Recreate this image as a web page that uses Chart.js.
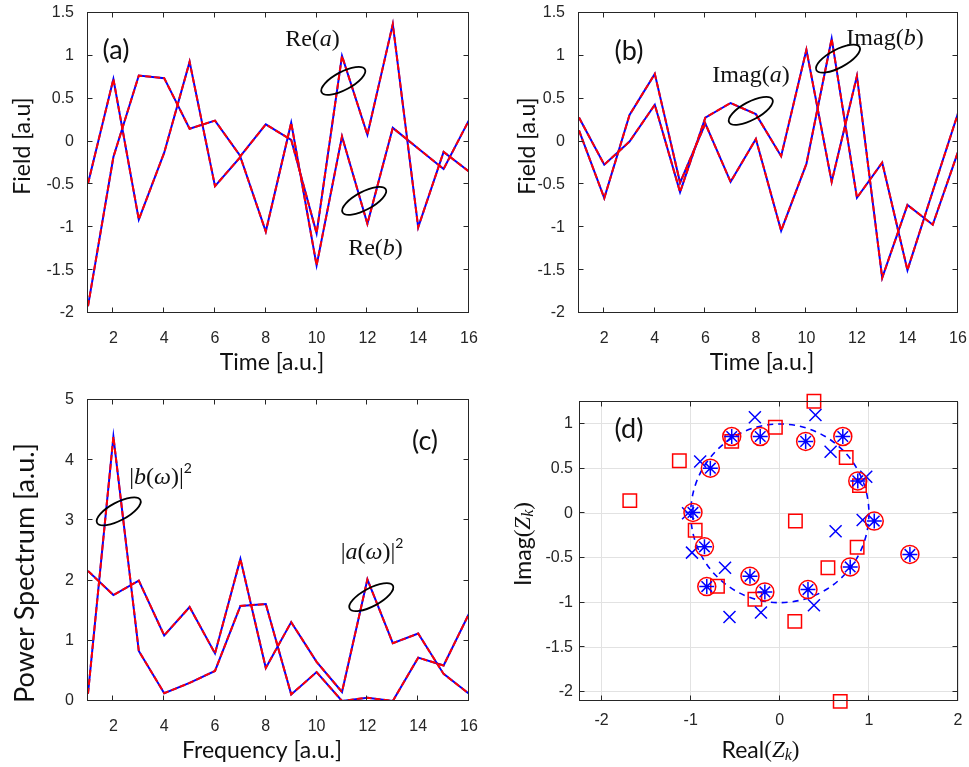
<!DOCTYPE html>
<html>
<head>
<meta charset="utf-8">
<script src="https://cdn.jsdelivr.net/npm/chart.js@4.4.1/dist/chart.umd.min.js"></script>
<style>
html,body{margin:0;padding:0;background:#fff;}
#wrap{position:relative;width:969px;height:767px;overflow:hidden;background:#fff;}
#wrap canvas{position:absolute;left:0;top:0;}
</style>
</head>
<body>
<div id="wrap">
<canvas id="cA" width="969" height="767"></canvas>
<canvas id="cB" width="969" height="767"></canvas>
<canvas id="cC" width="969" height="767"></canvas>
<canvas id="cD" width="969" height="767"></canvas>
</div>
<script>
// ---------- data ----------
const time = [1,2,3,4,5,6,7,8,9,10,11,12,13,14,15,16];
const freq = [1,2,3,4,5,6,7,8,9,10,11,12,13,14,15,16];

// panel (a): real parts
const reB = [-0.49, 0.73, -0.91, -0.13, 0.93, -0.52, -0.18, -1.05, 0.22, -1.445, 0.06, -0.96, 0.16, -0.08, -0.32, 0.25];
const reA = [-1.92, -0.18, 0.77, 0.74, 0.15, 0.245, -0.17, 0.20, 0.02, -1.07, 1.00, 0.08, 1.37, -1.00, -0.12, -0.35];

// panel (b): imaginary parts
const imA = [0.28, -0.27, 0.00, 0.43, -0.59, 0.28, 0.45, 0.32, -0.17, 1.07, -0.47, 0.765, -1.59, -0.74, -0.97, -0.12];
const imB = [0.13, -0.66, 0.31, 0.79, -0.48, 0.21, -0.47, 0.03, -1.04, -0.26, 1.20, -0.655, -0.245, -1.50, -0.58, 0.33];

// panel (c): power spectra
const psB = [0.12, 4.39, 0.83, 0.13, 0.30, 0.50, 1.58, 1.61, 0.11, 0.48, 0.00, 0.055, 0.00, 0.72, 0.59, 1.45];
const psA = [2.16, 1.76, 2.00, 1.09, 1.56, 0.79, 2.36, 0.55, 1.31, 0.65, 0.15, 2.02, 0.96, 1.12, 0.45, 0.12];

// panel (d): zeros in the complex plane
const rootRe = [-0.54, -0.22, -0.78, -0.975, -0.846, -0.82, -0.335, -0.168, 0.29, 0.707, 0.875, 1.06, 1.46, 0.79, 0.316];
const rootIm = [0.86, 0.86, 0.505, 0.01, -0.375, -0.82, -0.705, -0.88, 0.805, 0.86, 0.363, -0.087, -0.46, -0.60, -0.854];
const crossRe = [-0.28, -0.894, -1.03, -0.986, -0.615, -0.565, -0.212, 0.40, 0.57, 0.97, 0.93, 0.626, 0.383];
const crossIm = [1.075, 0.58, 0.00, -0.44, -0.61, -1.16, -1.11, 1.10, 0.69, 0.41, -0.075, -0.20, -1.03];
const squareRe = [-1.128, -0.54, -0.05, -0.95, -0.70, -0.28, -1.684, 0.383, 0.745, 0.894, 0.175, 0.868, 0.54, 0.168, 0.678];
const squareIm = [0.588, 0.805, 0.963, -0.19, -0.817, -0.963, 0.142, 1.254, 0.625, 0.31, -0.087, -0.38, -0.61, -1.21, -2.105];
const unitCircle = [0, 0, 1]; // centre re, centre im, radius

// ticks
const timeTicks = [2,4,6,8,10,12,14,16];
const fieldTicks = [-2,-1.5,-1,-0.5,0,0.5,1,1.5];
const powerTicks = [0,1,2,3,4,5];
const realTicks = [-2,-1,0,1,2];
const imagTicks = [-2,-1.5,-1,-0.5,0,0.5,1];

// ---------- helpers ----------
const SERIF = '"Liberation Serif","DejaVu Serif",serif';
const SANS = 'Lato,"Open Sans",sans-serif';
const TICKFONT = '"Liberation Sans",Arial,sans-serif';
const M = (t, size, it, dy) => ({t, f: (it ? 'italic ' : '') + size + 'px ' + SERIF, dy: dy || 0});
const S = (t, size, dy) => ({t, f: size + 'px ' + SANS, dy: dy || 0});
const ROT = -Math.PI / 2;
const XH = 40; // height reserved for the x tick labels

const decorData = {};

function drawRich(ctx, item) {
  ctx.save();
  ctx.translate(item.x, item.y);
  if (item.rot) ctx.rotate(item.rot);
  let total = 0;
  for (const s of item.segs) { ctx.font = s.f; s.w = ctx.measureText(s.t).width; total += s.w; }
  let x = -total / 2;
  ctx.textBaseline = 'middle';
  ctx.textAlign = 'left';
  ctx.fillStyle = item.color || '#111';
  for (const s of item.segs) { ctx.font = s.f; ctx.fillText(s.t, x, s.dy); x += s.w; }
  ctx.restore();
}

const decor = {
  id: 'decor',
  beforeDatasetsDraw(chart) {
    const d = decorData[chart.canvas.id];
    if (!d || !d.circle) return;
    const ctx = chart.ctx, xs = chart.scales.x, ys = chart.scales.y;
    const [cx, cy, r] = d.circle;
    const px = xs.getPixelForValue(cx), py = ys.getPixelForValue(cy);
    const rx = Math.abs(xs.getPixelForValue(cx + r) - px), ry = Math.abs(ys.getPixelForValue(cy + r) - py);
    ctx.save();
    ctx.strokeStyle = '#0000ff'; ctx.lineWidth = 1.6; ctx.setLineDash([6, 5]);
    ctx.beginPath(); ctx.ellipse(px, py, rx, ry, 0, 0, Math.PI * 2); ctx.stroke();
    ctx.restore();
  },
  afterDraw(chart) {
    const d = decorData[chart.canvas.id];
    const ctx = chart.ctx, a = chart.chartArea, xs = chart.scales.x, ys = chart.scales.y;
    ctx.save();
    ctx.strokeStyle = '#262626'; ctx.lineWidth = 1;
    const L = Math.round(a.left) - 0.5, T = Math.round(a.top) - 0.5, R = Math.round(a.right) - 0.5, B = Math.round(a.bottom) - 0.5;
    ctx.strokeRect(L, T, R - L, B - T);
    ctx.beginPath();
    for (const t of xs.ticks) {
      const p = Math.round(xs.getPixelForValue(t.value)) - 0.5;
      ctx.moveTo(p, B); ctx.lineTo(p, B - 5);
      ctx.moveTo(p, T); ctx.lineTo(p, T + 5);
    }
    for (const t of ys.ticks) {
      const p = Math.round(ys.getPixelForValue(t.value)) - 0.5;
      ctx.moveTo(L, p); ctx.lineTo(L + 5, p);
      ctx.moveTo(R, p); ctx.lineTo(R - 5, p);
    }
    ctx.stroke();
    ctx.restore();
    if (!d) return;
    for (const e of (d.ellipses || [])) {
      ctx.save();
      ctx.strokeStyle = '#000'; ctx.lineWidth = 1.8;
      ctx.beginPath(); ctx.ellipse(e[0], e[1], 24.5, 9, -28 * Math.PI / 180, 0, Math.PI * 2); ctx.stroke();
      ctx.restore();
    }
    for (const t of (d.texts || [])) drawRich(ctx, t);
  }
};

function pts(xs, ys) { return xs.map((x, i) => ({x, y: ys[i]})); }
function lineSets(xs, list) {
  const sets = [];
  list.forEach(ys => {
    sets.push({data: pts(xs, ys), borderColor: '#ff0000', borderWidth: 2, borderDash: [6, 3], pointRadius: 0, tension: 0, order: 0, fill: false});
    sets.push({data: pts(xs, ys), borderColor: '#0000ff', borderWidth: 2, pointRadius: 0, tension: 0, order: 1, fill: false});
  });
  return sets;
}
function axis(min, max, ticks, pad, size, grid) {
  return {
    type: 'linear', min, max,
    afterBuildTicks: s => { s.ticks = ticks.map(v => ({value: v})); },
    afterFit: s => {
      if (s.isHorizontal()) s.height = size; else s.width = size;
      s.paddingTop = s.paddingBottom = s.paddingLeft = s.paddingRight = 0;
    },
    ticks: {padding: pad, color: '#262626', font: {family: TICKFONT, size: 16}, callback: v => String(v), maxRotation: 0, minRotation: 0, autoSkip: false},
    grid: grid ? {display: true, color: '#e2e2e2', lineWidth: 1, drawTicks: false} : {display: false},
    border: {display: false}
  };
}
// area = [left, top, right, bottom] of the plotting box
function opts(area, xa, ya) {
  return {
    responsive: false, animation: false, devicePixelRatio: 1, events: [],
    layout: {padding: {left: 0, top: area[1], right: 969 - area[2], bottom: 767 - area[3] - XH}},
    scales: {x: xa, y: ya},
    plugins: {legend: {display: false}, tooltip: {enabled: false}, title: {display: false}}
  };
}

// ---------- annotations ----------
decorData.cA = {
  ellipses: [[343.3, 80.8], [364.2, 200.8]],
  texts: [
    {x: 116, y: 50, segs: [S('(a)', 27)]},
    {x: 312.5, y: 40, segs: [M('Re(', 24), M('a', 24, true), M(')', 24)]},
    {x: 375.5, y: 249, segs: [M('Re(', 24), M('b', 24, true), M(')', 24)]},
    {x: 23, y: 146, rot: ROT, segs: [S('Field [a.u]', 23)]},
    {x: 272, y: 363, segs: [S('Time [a.u.]', 23)]}
  ]
};
decorData.cB = {
  ellipses: [[750.8, 110.8], [838, 58.7]],
  texts: [
    {x: 629, y: 51, segs: [S('(b)', 27)]},
    {x: 751, y: 76, segs: [M('Imag(', 24), M('a', 24, true), M(')', 24)]},
    {x: 885, y: 38.5, segs: [M('Imag(', 24), M('b', 24, true), M(')', 24)]},
    {x: 528, y: 146, rot: ROT, segs: [S('Field [a.u]', 23)]},
    {x: 762, y: 363, segs: [S('Time [a.u.]', 23)]}
  ]
};
decorData.cC = {
  ellipses: [[118.7, 511.3], [371.3, 597.2]],
  texts: [
    {x: 425, y: 441, segs: [S('(c)', 27)]},
    {x: 160.5, y: 477.5, segs: [M('|', 24), M('b', 24, true), M('(', 24), M('ω', 24, true), M(')|', 24), S('2', 14, -9)]},
    {x: 372, y: 552.5, segs: [M('|', 24), M('a', 24, true), M('(', 24), M('ω', 24, true), M(')|', 24), S('2', 14, -9)]},
    {x: 25, y: 573, rot: ROT, segs: [S('Power Spectrum [a.u.]', 27)]},
    {x: 262, y: 751, segs: [S('Frequency [a.u.]', 23)]}
  ]
};
decorData.cD = {
  circle: unitCircle,
  texts: [
    {x: 629, y: 429, segs: [S('(d)', 27)]},
    {x: 524, y: 544, rot: ROT, segs: [S('Imag', 23), M('(', 23), M('Z', 23, true), M('k', 16, true, 5), M(')', 23)]},
    {x: 760.5, y: 751, segs: [S('Real', 23), M('(', 23), M('Z', 23, true), M('k', 16, true, 5), M(')', 23)]}
  ]
};

// ---------- charts ----------
new Chart(document.getElementById('cA'), {
  type: 'line',
  data: {datasets: lineSets(time, [reA, reB])},
  options: opts([88, 13, 469, 313], axis(1, 16, timeTicks, 8, XH), axis(-2, 1.5, fieldTicks, 6, 88)),
  plugins: [decor]
});
new Chart(document.getElementById('cB'), {
  type: 'line',
  data: {datasets: lineSets(time, [imA, imB])},
  options: opts([579, 13, 958, 313], axis(1, 16, timeTicks, 8, XH), axis(-2, 1.5, fieldTicks, 6, 579)),
  plugins: [decor]
});
new Chart(document.getElementById('cC'), {
  type: 'line',
  data: {datasets: lineSets(freq, [psA, psB])},
  options: opts([88, 400, 469, 701], axis(1, 16, timeTicks, 8, XH), axis(0, 5, powerTicks, 6, 88)),
  plugins: [decor]
});
new Chart(document.getElementById('cD'), {
  type: 'scatter',
  data: {datasets: [
    {data: pts(rootRe, rootIm), pointStyle: 'star', pointRadius: 7.5, borderColor: '#0000ff', backgroundColor: 'rgba(0,0,0,0)', borderWidth: 1.5, order: 0, clip: false},
    {data: pts(rootRe, rootIm), pointStyle: 'circle', pointRadius: 9, borderColor: '#ff0000', backgroundColor: 'rgba(0,0,0,0)', borderWidth: 1.5, order: 1, clip: false},
    {data: pts(crossRe, crossIm), pointStyle: 'crossRot', pointRadius: 8.5, borderColor: '#0000ff', backgroundColor: 'rgba(0,0,0,0)', borderWidth: 1.5, order: 2, clip: false},
    {data: pts(squareRe, squareIm), pointStyle: 'rect', pointRadius: 9.5, borderColor: '#ff0000', backgroundColor: 'rgba(0,0,0,0)', borderWidth: 1.5, order: 3, clip: false}
  ]},
  options: opts([580, 402, 959, 701], axis(-2.243, 2.0, realTicks, 10, XH, true), axis(-2.101, 1.246, imagTicks, 7, 580, true)),
  plugins: [decor]
});
</script>
</body>
</html>
